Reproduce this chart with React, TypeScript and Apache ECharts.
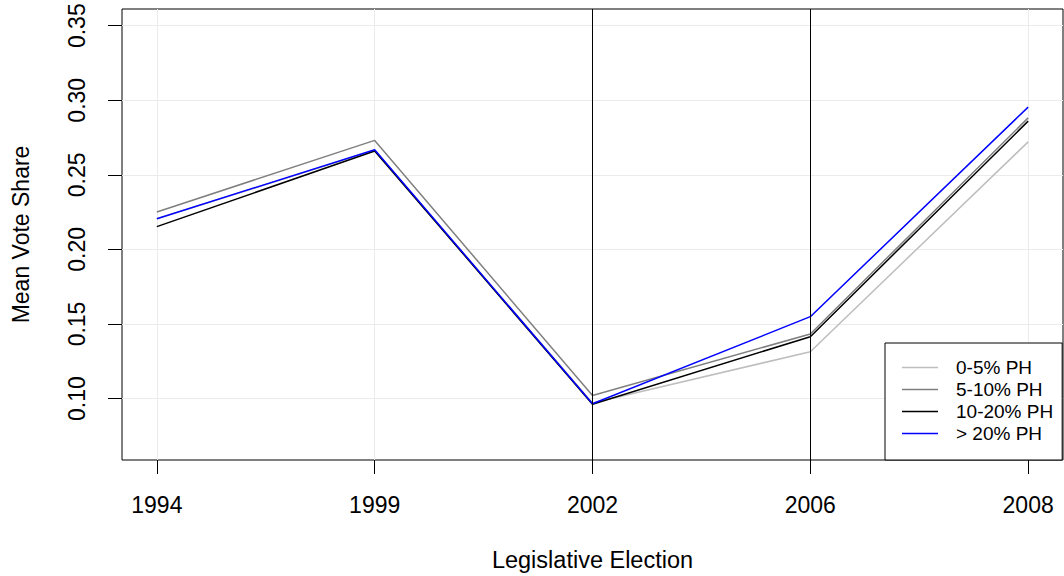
import React, { useEffect, useRef } from "react";
import * as echarts from "echarts";

const years = ["1994", "1999", "2002", "2006", "2008"];
const yTicks = [0.1, 0.15, 0.2, 0.25, 0.3, 0.35];
const seriesNames = ["0-5% PH", "5-10% PH", "10-20% PH", "> 20% PH"];
const ph0to5 = [0.2206, 0.2664, 0.097, 0.1314, 0.2721];
const ph5to10 = [0.2251, 0.2731, 0.102, 0.1433, 0.2882];
const ph10to20 = [0.2153, 0.266, 0.0962, 0.1415, 0.286];
const ph20plus = [0.2206, 0.2668, 0.0965, 0.1549, 0.2954];
const seriesColors = ["#bebebe", "#7f7f7f", "#000000", "#0000ff"];
const markedYears = ["2002", "2006"];

const FONT = "'Liberation Sans', Arial, Helvetica, sans-serif";

export default function App() {
  const ref = useRef<HTMLDivElement>(null);
  useEffect(() => {
    if (!ref.current) return;
    const chart = echarts.init(ref.current, null, { renderer: "svg" });
    const allSeries = [ph0to5, ph5to10, ph10to20, ph20plus];
    const xIdx = years.map((_, i) => i + 1);
    chart.setOption({
      animation: false,
      grid: {
        left: 122,
        right: 1,
        top: 9,
        bottom: 116,
        containLabel: false,
        outerBoundsMode: "none",
        show: true,
        borderColor: "#000",
        borderWidth: 1,
        backgroundColor: "transparent",
      },
      xAxis: {
        type: "value",
        min: 0.84,
        max: 5.16,
        name: "Legislative Election",
        nameLocation: "middle",
        nameGap: 88,
        nameTextStyle: { fontSize: 23.5, color: "#000", fontFamily: FONT },
        axisLine: { show: false },
        splitLine: { show: false },
        axisTick: {
          show: true,
          customValues: xIdx,
          length: 14,
          lineStyle: { color: "#000", width: 1 },
        },
        axisLabel: {
          customValues: xIdx,
          formatter: (v: number) => years[Math.round(v) - 1] ?? "",
          fontSize: 23,
          color: "#000",
          fontFamily: FONT,
          margin: 33,
        },
      },
      yAxis: {
        type: "value",
        min: 0.0588,
        max: 0.3612,
        name: "Mean Vote Share",
        nameLocation: "middle",
        nameGap: 90,
        nameTextStyle: { fontSize: 23, color: "#000", fontFamily: FONT },
        axisLine: { show: false },
        splitLine: { show: false },
        axisTick: {
          show: true,
          customValues: yTicks,
          length: 14,
          lineStyle: { color: "#000", width: 1 },
        },
        axisLabel: {
          customValues: yTicks,
          formatter: (v: number) => v.toFixed(2),
          rotate: 90,
          fontSize: 23,
          color: "#000",
          fontFamily: FONT,
          margin: 34,
        },
      },
      legend: {
        data: seriesNames.map((n) => ({ name: n, icon: "rect" })),
        orient: "vertical",
        left: 885,
        top: 343,
        z: 10,
        backgroundColor: "#fff",
        borderColor: "#000",
        borderWidth: 1,
        borderRadius: 0,
        padding: [15, 9, 17, 17],
        itemGap: 3,
        itemWidth: 36,
        itemHeight: 1.5,
        selectedMode: false,
        textStyle: {
          fontSize: 19,
          color: "#000",
          fontFamily: FONT,
          padding: [0, 0, 0, 13],
        },
      },
      series: [
        {
          name: "grid",
          type: "line",
          data: [],
          silent: true,
          z: 1,
          markLine: {
            silent: true,
            z: 1,
            symbol: ["none", "none"],
            label: { show: false },
            lineStyle: { color: "#ebebeb", width: 1, type: "solid" },
            data: [
              ...yTicks.map((v) => ({ yAxis: v })),
              ...xIdx.map((v) => ({ xAxis: v })),
            ],
          },
        },
        ...allSeries.map((vals, k) => ({
          name: seriesNames[k],
          type: "line",
          data: vals.map((v, i) => [i + 1, v]),
          symbol: "none",
          silent: true,
          z: 2,
          lineStyle: { color: seriesColors[k], width: 1.5 },
          itemStyle: { color: seriesColors[k] },
          emphasis: { disabled: true },
        })),
        {
          name: "marks",
          type: "line",
          data: [],
          silent: true,
          z: 3,
          markLine: {
            silent: true,
            z: 3,
            symbol: ["none", "none"],
            label: { show: false },
            lineStyle: { color: "#000", width: 1, type: "solid" },
            data: markedYears.map((y) => ({ xAxis: years.indexOf(y) + 1 })),
          },
        },
      ],
    });
    return () => chart.dispose();
  }, []);
  return (
    <div
      ref={ref}
      style={{ position: "absolute", left: 0, top: 0, width: 1064, height: 576, background: "#fff" }}
    />
  );
}
